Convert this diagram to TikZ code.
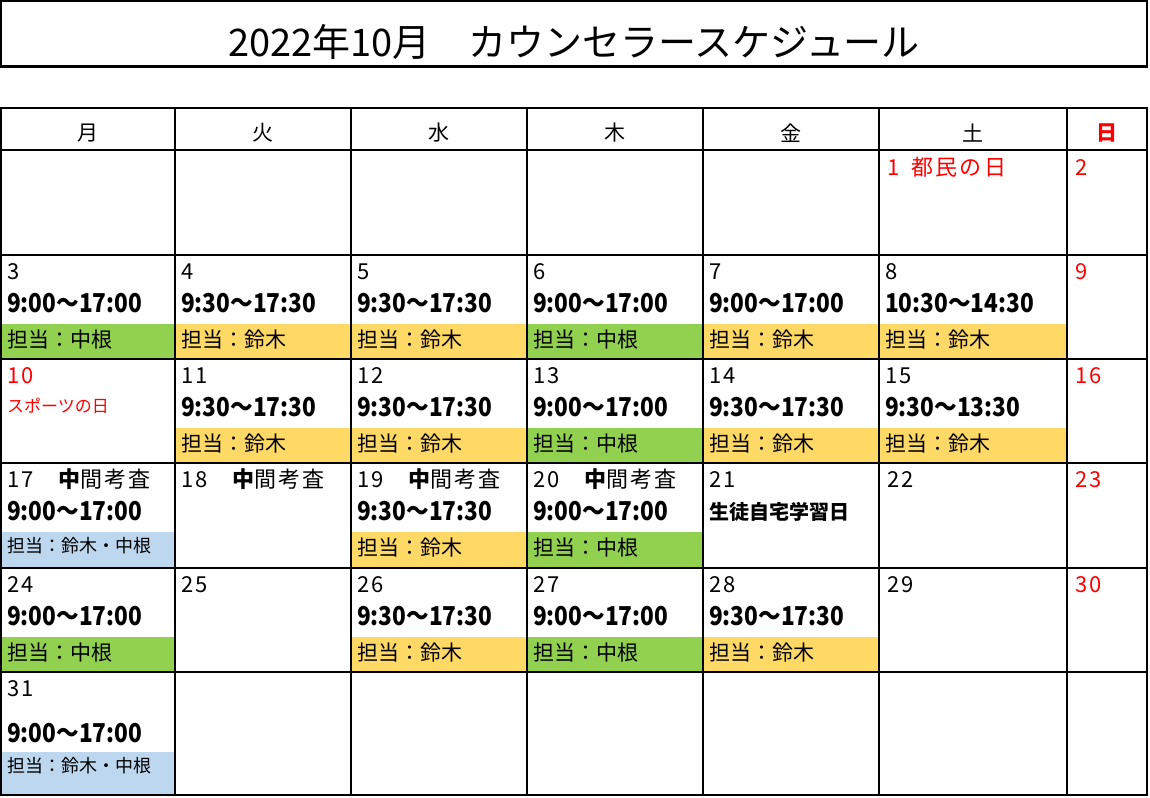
\documentclass[tikz,border=0pt]{standalone}
\usepackage{fontspec}
\setmainfont{Noto Sans CJK JP}
\newfontfamily\numfont[LetterSpace=10]{Noto Sans CJK JP}
\newfontfamily\timefont[FakeStretch=0.87]{Noto Sans CJK JP}
\definecolor{bandgreen}{HTML}{92D050}
\definecolor{bandyellow}{HTML}{FFD966}
\definecolor{bandblue}{HTML}{BDD7EE}
\definecolor{holred}{HTML}{FF0000}
\tikzset{
  datetxt/.style={anchor=base west, inner sep=0pt, font=\fontsize{22}{22}\selectfont\numfont},
  timetxt/.style={anchor=base west, inner sep=0pt, font=\fontsize{26}{26}\selectfont\timefont\bfseries},
  bandtxt/.style={anchor=base west, inner sep=0pt, font=\fontsize{21}{21}\selectfont},
  smallband/.style={anchor=base west, inner sep=0pt, font=\fontsize{18}{18}\selectfont},
  headtxt/.style={anchor=center, inner sep=0pt, font=\fontsize{21}{21}\selectfont},
  gridline/.style={line width=1.2pt, black},
  thickline/.style={line width=2.4pt, black},
}
\newcommand{\workday}[8]{%
  \fill[#7] (#2,#4+69) rectangle (#3,#4+104);
  \node[datetxt] (d#1) at (#2+6,#4+24) {#5};
  \node[timetxt] (t#1) at (#2+6,#4+57) {#6};
  \node[bandtxt] (b#1) at (#2+6,#4+92) {#8};}
\newcommand{\exam}{{\bfseries 中}間考査}
\begin{document}
\begin{tikzpicture}[x=1pt,y=-1pt]
\useasboundingbox (0,0) rectangle (1150,797);
% title
\draw[line width=1.5pt] (1,1) rectangle (1147,66);
\draw[line width=3pt] (0,66.5) -- (1148,66.5);
\node[inner sep=0pt, font=\fontsize{38}{38}\selectfont] (title) at (574,42) {2022年10月　カウンセラースケジュール};
% header
\node[headtxt] (hmon) at (88,133) {月};
\node[headtxt] (htue) at (263,133) {火};
\node[headtxt] (hwed) at (439,133) {水};
\node[headtxt] (hthu) at (615,133) {木};
\node[headtxt] (hfri) at (791,133) {金};
\node[headtxt] (hsat) at (973,133) {土};
\node[headtxt, text=holred, font=\fontsize{21}{21}\selectfont\bfseries] (hsun) at (1107,133) {日};
% row 1
\node[datetxt, text=holred] (d1) at (887,175) {1\hspace{0.55em}都民の日};
\node[datetxt, text=holred] (d2) at (1075,175) {2};
% row 2
\workday{3}{1}{175}{255}{3}{9:00～17:00}{bandgreen}{担当：中根}
\workday{4}{175}{351}{255}{4}{9:30～17:30}{bandyellow}{担当：鈴木}
\workday{5}{351}{527}{255}{5}{9:30～17:30}{bandyellow}{担当：鈴木}
\workday{6}{527}{703}{255}{6}{9:00～17:00}{bandgreen}{担当：中根}
\workday{7}{703}{879}{255}{7}{9:00～17:00}{bandyellow}{担当：鈴木}
\workday{8}{879}{1067}{255}{8}{10:30～14:30}{bandyellow}{担当：鈴木}
\node[datetxt, text=holred] (d9) at (1075,279) {9};
% row 3
\node[datetxt, text=holred] (d10) at (7,383) {10};
\node[anchor=base west, inner sep=0pt, text=holred, font=\fontsize{17}{17}\selectfont] (sports) at (7,412) {スポーツの日};
\workday{11}{175}{351}{359}{11}{9:30～17:30}{bandyellow}{担当：鈴木}
\workday{12}{351}{527}{359}{12}{9:30～17:30}{bandyellow}{担当：鈴木}
\workday{13}{527}{703}{359}{13}{9:00～17:00}{bandgreen}{担当：中根}
\workday{14}{703}{879}{359}{14}{9:30～17:30}{bandyellow}{担当：鈴木}
\workday{15}{879}{1067}{359}{15}{9:30～13:30}{bandyellow}{担当：鈴木}
\node[datetxt, text=holred] (d16) at (1075,383) {16};
% row 4
\fill[bandblue] (1,532) rectangle (175,567);
\node[datetxt] (d17) at (7,487) {17　\exam};
\node[timetxt] (t17) at (7,520) {9:00～17:00};
\node[smallband] (b17) at (7,552) {担当：鈴木・中根};
\node[datetxt] (d18) at (181,487) {18　\exam};
\workday{19}{351}{527}{463}{19　\exam}{9:30～17:30}{bandyellow}{担当：鈴木}
\workday{20}{527}{703}{463}{20　\exam}{9:00～17:00}{bandgreen}{担当：中根}
\node[datetxt] (d21) at (709,487) {21};
\node[anchor=base west, inner sep=0pt, font=\fontsize{20}{20}\selectfont\bfseries] (home) at (709,519) {生徒自宅学習日};
\node[datetxt] (d22) at (887,487) {22};
\node[datetxt, text=holred] (d23) at (1075,487) {23};
% row 5
\workday{24}{1}{175}{568}{24}{9:00～17:00}{bandgreen}{担当：中根}
\node[datetxt] (d25) at (181,592) {25};
\workday{26}{351}{527}{568}{26}{9:30～17:30}{bandyellow}{担当：鈴木}
\workday{27}{527}{703}{568}{27}{9:00～17:00}{bandgreen}{担当：中根}
\workday{28}{703}{879}{568}{28}{9:30～17:30}{bandyellow}{担当：鈴木}
\node[datetxt] (d29) at (887,592) {29};
\node[datetxt, text=holred] (d30) at (1075,592) {30};
% row 6
\fill[bandblue] (1,752) rectangle (175,795);
\node[datetxt] (d31) at (7,696) {31};
\node[timetxt] (t31) at (7,742) {9:00～17:00};
\node[smallband] (b31) at (7,772) {担当：鈴木・中根};
% grid
\foreach \gx in {175,351,527,703,879} \draw[gridline] (\gx,108) -- (\gx,795);
\draw[thickline] (1067,108) -- (1067,795);
\foreach \gy in {150,255,359,568,672} \draw[gridline] (1,\gy) -- (1147,\gy);
\draw[thickline] (1,463) -- (1147,463);
\draw[line width=2pt] (1,108) rectangle (1147,795);
\end{tikzpicture}
\end{document}
